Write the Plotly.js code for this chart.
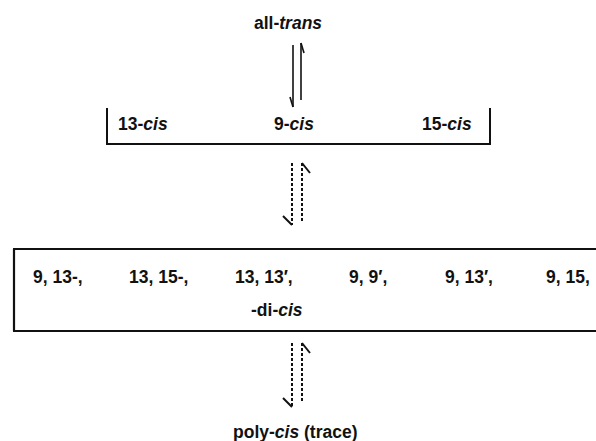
<!DOCTYPE html>
<html>
<head>
<meta charset="utf-8">
<script src="https://cdn.plot.ly/plotly-3.0.1.min.js"></script>
<style>html,body{margin:0;padding:0;background:#fff;}#chart{width:596px;height:441px;}</style>
</head>
<body>
<div id="chart"></div>
<script>
// ---- data (labels of the scheme) ----
const topLabel = "all-<i>trans</i>";
const monoCisLabels = ["13-<i>cis</i>", "9-<i>cis</i>", "15-<i>cis</i>"];
const diCisLabels = ["9, 13-,", "13, 15-,", "13, 13′,", "9, 9′,", "9, 13′,", "9, 15,"];
const diCisSuffix = "-di-<i>cis</i>";
const bottomLabel = "poly-<i>cis</i> (trace)";

// ---- layout positions (diagram coordinates, px) ----
const monoX = [143, 294, 447];
const diX = [58, 158, 264, 368, 469, 568];
const FONT = {family: "Liberation Sans, Arial, sans-serif", size: 17.5, color: "#111"};

const annotations = [];
function label(text, x, y) {
  annotations.push({text: "<b>" + text + "</b>", x: x, y: y, xref: "x", yref: "y",
    showarrow: false, xanchor: "center", yanchor: "middle", font: FONT});
}
label(topLabel, 288, 23);
monoCisLabels.forEach((t, i) => label(t, monoX[i], 124));
diCisLabels.forEach((t, i) => label(t, diX[i], 277));
label(diCisSuffix, 277, 310);
label(bottomLabel, 295, 432);

const shapes = [];
function seg(x0, y0, x1, y1, w, dash) {
  shapes.push({type: "line", xref: "x", yref: "y", x0: x0, y0: y0, x1: x1, y1: y1,
    line: {color: "#111", width: w, dash: dash || "solid"}});
}
// solid equilibrium arrows
seg(293, 45, 293, 107, 1.6);
seg(293, 107, 290, 97, 1.6);
seg(301, 43, 301, 100, 1.6);
seg(301, 43, 304, 53, 1.6);
// bracket around mono-cis
seg(107, 108, 107, 144, 2);
seg(490, 108, 490, 144, 2);
seg(106, 144, 491, 144, 2);
// dashed arrows (two pairs)
[[163, 225, 222], [343, 407, 403]].forEach(([top, lb, rb]) => {
  seg(292, top, 292, lb, 2, "3px,2px");
  seg(292, lb, 283, lb - 9, 2);
  seg(302, top, 302, rb, 2, "3px,2px");
  seg(302, top, 310, top + 10, 2);
});
// di-cis box (open on the right)
seg(14, 249, 14, 331, 2.2);
seg(13, 249, 596, 249, 2.2);
seg(13, 331, 596, 331, 2.2);

const layout = {
  width: 596, height: 441,
  margin: {l: 0, r: 0, t: 0, b: 0},
  paper_bgcolor: "#fff", plot_bgcolor: "#fff",
  xaxis: {range: [0, 596], visible: false, fixedrange: true},
  yaxis: {range: [441, 0], visible: false, fixedrange: true},
  showlegend: false,
  annotations: annotations,
  shapes: shapes
};
Plotly.newPlot("chart", [], layout, {staticPlot: true, displayModeBar: false});
</script>
</body>
</html>
